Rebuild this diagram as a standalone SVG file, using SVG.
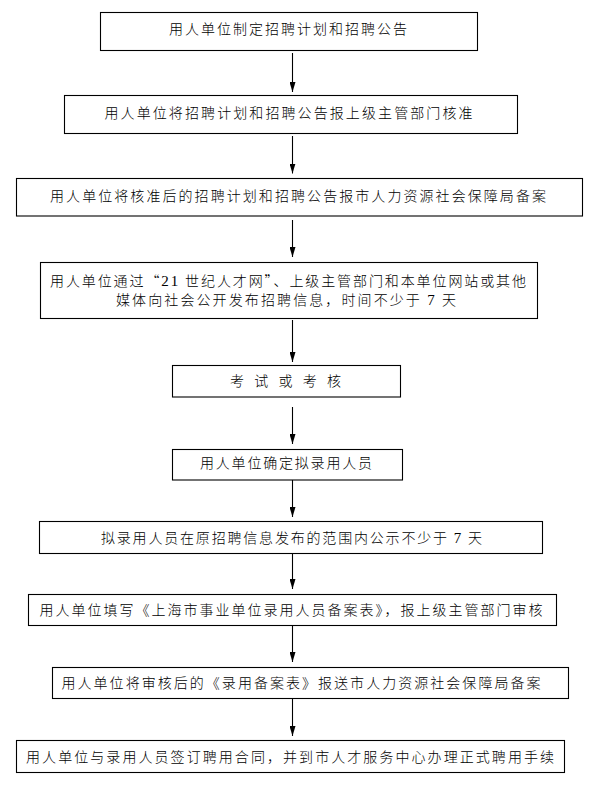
<svg xmlns="http://www.w3.org/2000/svg" width="603" height="787" viewBox="0 0 603 787">
<defs>
<style>
.box{fill:#fff;stroke:#000;stroke-width:1.1}
.t{font-family:"Noto Sans CJK SC","Noto Sans CJK JP",sans-serif;font-size:14px;font-weight:300;fill:#000}
.n{font-family:"Liberation Serif","Times New Roman",serif;font-size:15px;font-weight:normal}
.arr{stroke:#000;stroke-width:1.1;fill:none}
</style>
<marker id="ah" markerUnits="userSpaceOnUse" markerWidth="10" markerHeight="6" viewBox="0 0 10 6" refX="10" refY="3" orient="auto">
<path d="M0,0 L10,3 L0,6 z" fill="#000"/>
</marker>
</defs>
<rect width="603" height="787" fill="#fff"/>
<g id="connectors">
<line class="arr" x1="292.5" y1="53" x2="292.5" y2="92" marker-end="url(#ah)"/>
<line class="arr" x1="292.5" y1="136" x2="292.5" y2="173.5" marker-end="url(#ah)"/>
<line class="arr" x1="292.5" y1="220" x2="292.5" y2="257" marker-end="url(#ah)"/>
<line class="arr" x1="292.5" y1="320" x2="292.5" y2="362" marker-end="url(#ah)"/>
<line class="arr" x1="292.5" y1="407" x2="292.5" y2="444" marker-end="url(#ah)"/>
<line class="arr" x1="292.5" y1="480" x2="292.5" y2="517" marker-end="url(#ah)"/>
<line class="arr" x1="292.5" y1="553" x2="292.5" y2="589" marker-end="url(#ah)"/>
<line class="arr" x1="292.5" y1="625" x2="292.5" y2="662" marker-end="url(#ah)"/>
<line class="arr" x1="292.5" y1="698" x2="292.5" y2="736" marker-end="url(#ah)"/>
</g>
<g id="n1">
<rect class="box" x="100.5" y="12.5" width="377" height="38"/>
<text class="t" x="169" y="34" textLength="238" lengthAdjust="spacing">用人单位制定招聘计划和招聘公告</text>
</g>
<g id="n2">
<rect class="box" x="64.5" y="95.5" width="453" height="38"/>
<text class="t" x="104.5" y="118" textLength="368" lengthAdjust="spacing">用人单位将招聘计划和招聘公告报上级主管部门核准</text>
</g>
<g id="n3">
<rect class="box" x="16.5" y="178.5" width="566" height="37.5"/>
<text class="t" x="50" y="201" textLength="496" lengthAdjust="spacing">用人单位将核准后的招聘计划和招聘公告报市人力资源社会保障局备案</text>
</g>
<g id="n4">
<rect class="box" x="40.5" y="262.5" width="497" height="56"/>
<text class="t" x="50" y="286" textLength="476" lengthAdjust="spacing">用人单位通过“<tspan class="n">21</tspan> 世纪人才网”、上级主管部门和本单位网站或其他</text>
<text class="t" x="116" y="305" textLength="340" lengthAdjust="spacing">媒体向社会公开发布招聘信息，时间不少于 <tspan class="n">7</tspan> 天</text>
</g>
<g id="n5">
<rect class="box" x="172.5" y="365.5" width="228" height="31.5"/>
<text class="t" x="230" y="386" textLength="111" lengthAdjust="spacing">考 试 或 考 核</text>
</g>
<g id="n6">
<rect class="box" x="172.5" y="449.5" width="230" height="30.5"/>
<text class="t" x="200" y="468" textLength="172" lengthAdjust="spacing">用人单位确定拟录用人员</text>
</g>
<g id="n7">
<rect class="box" x="39.5" y="521.5" width="503" height="32"/>
<text class="t" x="101" y="543" textLength="381" lengthAdjust="spacing">拟录用人员在原招聘信息发布的范围内公示不少于 <tspan class="n">7</tspan> 天</text>
</g>
<g id="n8">
<rect class="box" x="28.5" y="594.5" width="528" height="31"/>
<text class="t" x="39.5" y="615" textLength="503" lengthAdjust="spacing">用人单位填写《上海市事业单位录用人员备案表》，报上级主管部门审核</text>
</g>
<g id="n9">
<rect class="box" x="52.5" y="667.5" width="516" height="31"/>
<text class="t" x="61.5" y="688" textLength="479" lengthAdjust="spacing">用人单位将审核后的《录用备案表》报送市人力资源社会保障局备案</text>
</g>
<g id="n10">
<rect class="box" x="16.5" y="740.5" width="548" height="32"/>
<text class="t" x="26" y="762" textLength="528" lengthAdjust="spacing">用人单位与录用人员签订聘用合同，并到市人才服务中心办理正式聘用手续</text>
</g>
</svg>
